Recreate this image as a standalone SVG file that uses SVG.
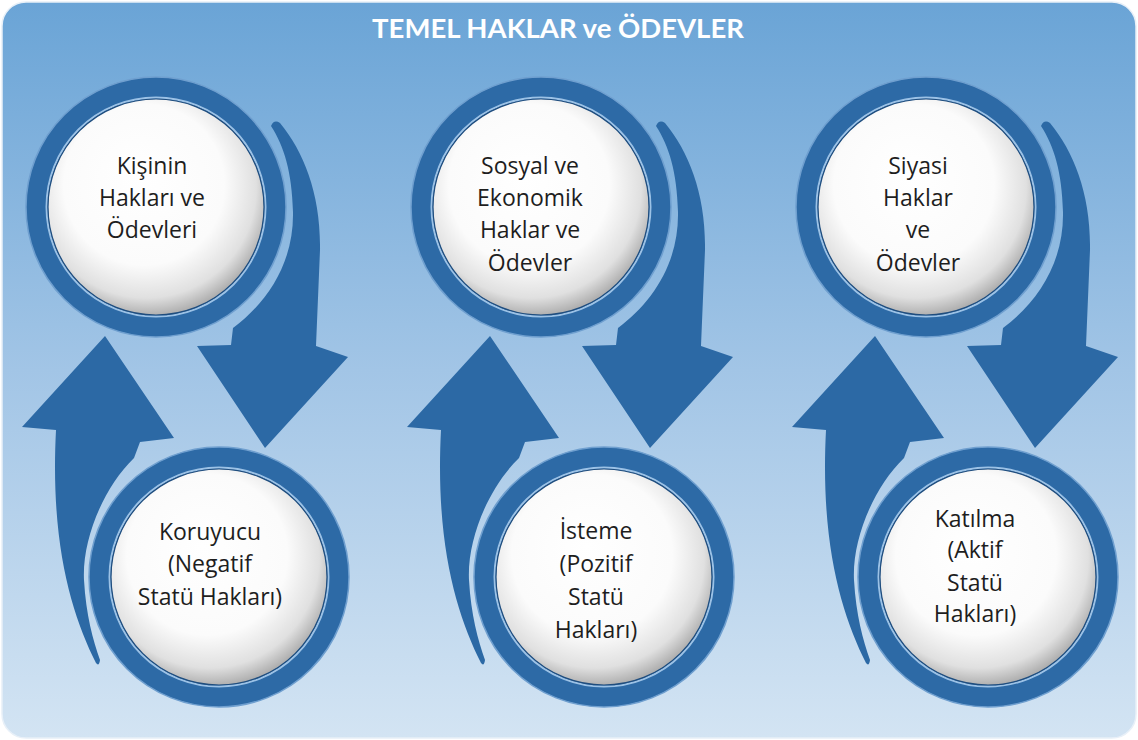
<svg xmlns="http://www.w3.org/2000/svg" width="1138" height="740" viewBox="0 0 1138 740">
  <defs>
    <linearGradient id="bg" x1="0" y1="0" x2="0" y2="1">
      <stop offset="0" stop-color="#6aa4d6"/>
      <stop offset="0.5" stop-color="#a2c5e6"/>
      <stop offset="1" stop-color="#d3e4f3"/>
    </linearGradient>
    <radialGradient id="ball" cx="0.46" cy="0.42" r="0.6" fx="0.42" fy="0.36">
      <stop offset="0" stop-color="#ffffff"/>
      <stop offset="0.62" stop-color="#fbfbfb"/>
      <stop offset="0.85" stop-color="#e0e0e0"/>
      <stop offset="1" stop-color="#a5a5a5"/>
    </radialGradient>
    <g id="ring">
      <circle r="130" fill="#2d6aa6" stroke="#6f9fcf" stroke-width="1.5"/>
      <circle r="109.5" fill="none" stroke="#9cc2e6" stroke-width="2"/>
      <circle r="108" fill="url(#ball)" stroke="#1f4d7e" stroke-width="1.2"/>
    </g>
    <path id="down" d="M271,126 Q274,119 280,123 C304,152 321,195 320,250 L316,346 L348,357 L265,448 L197,346 L231,345 L233,328 C268,302 294,262 293,212 C292,172 284,146 271,126 Z"/>
    <path id="up" d="M96,663 C72,615 50,545 56,430 L22,427 L105,336 L174,438 L140,442 L134,458 C103,488 82,540 84,580 C86,615 93,640 100,660 Q99,667 96,663 Z"/>
  </defs>
  <style>
    .arrow { fill: #2c69a5; }
    .lbl { font-family: "Open Sans", "Noto Sans", sans-serif; font-size: 23px; fill: #1e1e1e; text-anchor: middle; font-variant-ligatures: none; }
    .title { font-family: "Lato", "Open Sans", sans-serif; font-size: 27.5px; font-weight: bold; fill: #ffffff; text-anchor: middle; font-variant-ligatures: none; }
  </style>

  <rect x="0" y="0" width="1138" height="740" fill="#ffffff"/>
  <rect x="2" y="2" width="1134" height="736" rx="24" fill="url(#bg)" stroke="#e8f0f8" stroke-width="1.5"/>

  <g id="title">
    <text class="title" x="558" y="38">TEMEL HAKLAR ve ÖDEVLER</text>
  </g>

  <g id="connectors">
    <use href="#down" class="arrow"/>
    <use href="#up" class="arrow"/>
    <use href="#down" class="arrow" transform="translate(385,0)"/>
    <use href="#up" class="arrow" transform="translate(385,0)"/>
    <use href="#down" class="arrow" transform="translate(770,0)"/>
    <use href="#up" class="arrow" transform="translate(770,0)"/>
  </g>

  <g id="node-kisinin">
    <use href="#ring" x="156" y="207"/>
    <text class="lbl"><tspan x="152" y="174">Kişinin</tspan><tspan x="152" y="206">Hakları ve</tspan><tspan x="152" y="238">Ödevleri</tspan></text>
  </g>
  <g id="node-koruyucu">
    <use href="#ring" x="219" y="577"/>
    <text class="lbl"><tspan x="210" y="540">Koruyucu</tspan><tspan x="210" y="572">(Negatif</tspan><tspan x="210" y="605">Statü Hakları)</tspan></text>
  </g>
  <g id="node-sosyal">
    <use href="#ring" x="541" y="207"/>
    <text class="lbl"><tspan x="530" y="174">Sosyal ve</tspan><tspan x="530" y="206">Ekonomik</tspan><tspan x="530" y="238">Haklar ve</tspan><tspan x="530" y="271">Ödevler</tspan></text>
  </g>
  <g id="node-isteme">
    <use href="#ring" x="604" y="577"/>
    <text class="lbl"><tspan x="596" y="539">İsteme</tspan><tspan x="596" y="572">(Pozitif</tspan><tspan x="596" y="605">Statü</tspan><tspan x="596" y="638">Hakları)</tspan></text>
  </g>
  <g id="node-siyasi">
    <use href="#ring" x="926" y="207"/>
    <text class="lbl"><tspan x="918" y="174">Siyasi</tspan><tspan x="918" y="206">Haklar</tspan><tspan x="918" y="238">ve</tspan><tspan x="918" y="271">Ödevler</tspan></text>
  </g>
  <g id="node-katilma">
    <use href="#ring" x="988" y="577"/>
    <text class="lbl"><tspan x="975" y="527">Katılma</tspan><tspan x="975" y="558">(Aktif</tspan><tspan x="975" y="591">Statü</tspan><tspan x="975" y="622">Hakları)</tspan></text>
  </g>
</svg>
